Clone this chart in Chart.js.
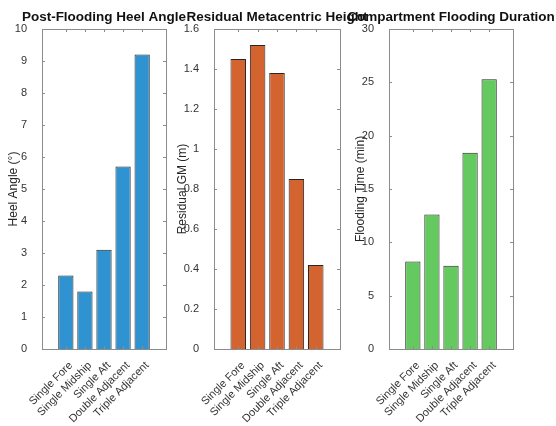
<!DOCTYPE html>
<html>
<head>
<meta charset="utf-8">
<script src="https://cdn.jsdelivr.net/npm/chart.js@4"></script>
<style>
  html, body { margin: 0; padding: 0; background: #fff; }
  #wrap { position: relative; width: 556px; height: 426px; }
  #wrap canvas { position: absolute; left: 0; top: 0; }
</style>
</head>
<body>
<div id="wrap">
  <canvas id="heelChart" width="556" height="426"></canvas>
  <canvas id="gmChart" width="556" height="426"></canvas>
  <canvas id="floodChart" width="556" height="426"></canvas>
</div>
<script>
// Data
const scenarios = ["Single Fore", "Single Midship", "Single Aft", "Double Adjacent", "Triple Adjacent"];
const heelAngle = [2.3, 1.8, 3.1, 5.7, 9.2];
const residualGM = [1.45, 1.52, 1.38, 0.85, 0.42];
const floodTime = [8.2, 12.6, 7.8, 18.4, 25.3];

const FONT = "'Liberation Sans', Arial, Helvetica, sans-serif";

// MATLAB-like box with inward ticks on all four sides, plus the axes title
const boxTicks = {
  id: "boxTicks",
  afterDraw(chart, args, opts) {
    const { ctx, chartArea: a, scales } = chart;
    const len = 3;
    ctx.save();
    ctx.strokeStyle = "#8c8c8c";
    ctx.lineWidth = 1;
    ctx.beginPath();
    scales.y.ticks.forEach(t => {
      const y = Math.round(scales.y.getPixelForValue(t.value)) + 0.5;
      ctx.moveTo(a.left, y); ctx.lineTo(a.left + len, y);
      ctx.moveTo(a.right, y); ctx.lineTo(a.right - len, y);
    });
    scales.x.ticks.forEach(t => {
      const x = Math.round(scales.x.getPixelForValue(t.value)) + 0.5;
      ctx.moveTo(x, a.bottom); ctx.lineTo(x, a.bottom - len);
      ctx.moveTo(x, a.top); ctx.lineTo(x, a.top + len);
    });
    ctx.stroke();
    ctx.strokeRect(Math.round(a.left) + 0.5, Math.round(a.top) + 0.5,
      Math.round(a.right - a.left), Math.round(a.bottom - a.top));

    // title, centred over the axes and allowed to run past them
    ctx.fillStyle = "#111";
    ctx.font = "bold 13.5px " + FONT;
    ctx.textAlign = "center";
    ctx.textBaseline = "middle";
    ctx.fillText(opts.text, (a.left + a.right) / 2, 17);
    ctx.restore();
  }
};

function makeChart(id, opts) {
  const data = opts.values.map((v, i) => ({ x: i + 1, y: v }));
  return new Chart(document.getElementById(id), {
    type: "bar",
    data: {
      datasets: [{
        data,
        backgroundColor: opts.color,
        borderColor: "#262626",
        borderWidth: 1,
        barPercentage: 0.8,
        categoryPercentage: 1
      }]
    },
    options: {
      responsive: false,
      animation: false,
      layout: { padding: { left: opts.left - opts.yWidth, right: 556 - opts.right, top: 29, bottom: 0 } },
      plugins: {
        legend: { display: false },
        tooltip: { enabled: false },
        title: { display: false },
        boxTicks: { text: opts.title }
      },
      scales: {
        x: {
          type: "linear",
          min: 0.4,
          max: 5.6,
          afterBuildTicks: s => { s.ticks = scenarios.map((c, i) => ({ value: i + 1 })); },
          afterFit: s => { s.height = 426 - 349; },
          ticks: {
            callback: v => scenarios[v - 1],
            autoSkip: false,
            minRotation: 45,
            maxRotation: 45,
            padding: 2,
            labelOffset: 5,
            color: "#333",
            font: { family: FONT, size: 11 }
          },
          grid: { display: false },
          border: { display: false }
        },
        y: {
          min: 0,
          max: opts.max,
          afterFit: s => { s.width = opts.yWidth; },
          ticks: {
            stepSize: opts.step,
            padding: 7,
            callback: v => String(+v.toFixed(2)),
            color: "#333",
            font: { family: FONT, size: 11 }
          },
          title: {
            display: true,
            text: opts.yTitle,
            color: "#262626",
            padding: { top: 2, bottom: 0 },
            font: { family: FONT, size: 12 }
          },
          grid: { display: false },
          border: { display: false }
        }
      }
    },
    plugins: [boxTicks]
  });
}

makeChart("heelChart", {
  values: heelAngle, color: "#2f93d2", title: "Post-Flooding Heel Angle",
  yTitle: "Heel Angle (°)", max: 10, step: 1, left: 42, right: 166, yWidth: 38
});
makeChart("gmChart", {
  values: residualGM, color: "#d3642f", title: "Residual Metacentric Height",
  yTitle: "Residual GM (m)", max: 1.6, step: 0.2, left: 214, right: 340, yWidth: 41
});
makeChart("floodChart", {
  values: floodTime, color: "#64c95e", title: "Compartment Flooding Duration",
  yTitle: "Flooding Time (min)", max: 30, step: 5, left: 389, right: 513, yWidth: 38
});
</script>
</body>
</html>
